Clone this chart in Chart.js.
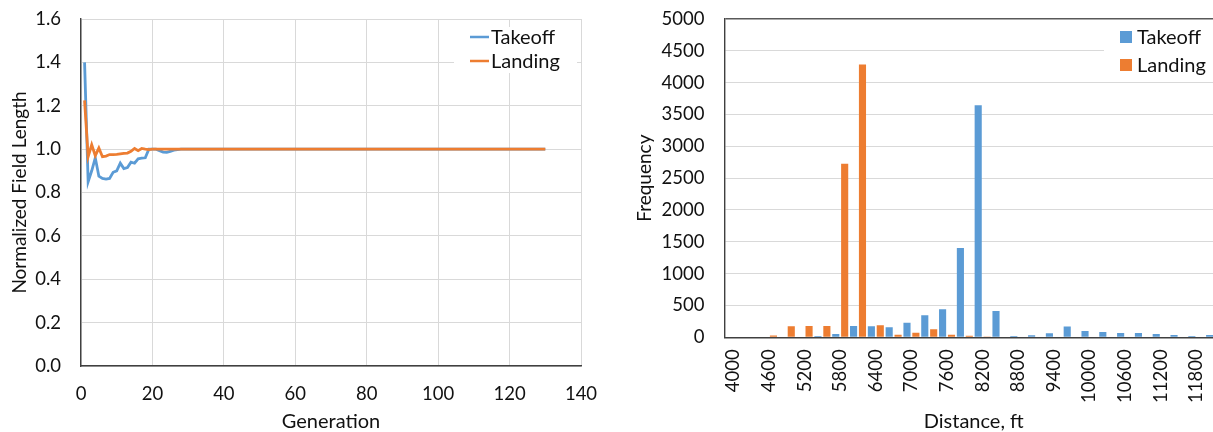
<!DOCTYPE html>
<html>
<head>
<meta charset="utf-8">
<script src="https://cdn.jsdelivr.net/npm/chart.js@4.4.1/dist/chart.umd.min.js"></script>
<style>
  html, body { margin: 0; padding: 0; background: #fff; width: 1213px; height: 432px; overflow: hidden; }
  #left { position: absolute; left: 0; top: 0; }
  #right { position: absolute; left: 600px; top: 0; }
</style>
</head>
<body>
<canvas id="left" width="600" height="432"></canvas>
<canvas id="right" width="640" height="432"></canvas>
<script>
// ---------- Left chart data (Normalized field length vs. generation) ----------
const generation = [1,2,3,4,5,6,7,8,9,10,11,12,13,14,15,16,17,18,19,20,
  21,22,23,24,25,26,27,28,29,30,31,32,33,34,35,36,37,38,39,40,
  41,42,43,44,45,46,47,48,49,50,51,52,53,54,55,56,57,58,59,60,
  61,62,63,64,65,66,67,68,69,70,71,72,73,74,75,76,77,78,79,80,
  81,82,83,84,85,86,87,88,89,90,91,92,93,94,95,96,97,98,99,100,
  101,102,103,104,105,106,107,108,109,110,111,112,113,114,115,116,117,118,119,120,
  121,122,123,124,125,126,127,128,129,130];
const takeoffNorm = [1.40,0.85,0.90,0.96,0.875,0.865,0.862,0.865,0.893,0.900,
  0.935,0.910,0.915,0.940,0.935,0.955,0.958,0.960,1.000,1.000,
  1.000,0.993,0.986,0.985,0.990,0.995,0.998,1,1,1,
  1,1,1,1,1,1,1,1,1,1, 1,1,1,1,1,1,1,1,1,1,
  1,1,1,1,1,1,1,1,1,1, 1,1,1,1,1,1,1,1,1,1,
  1,1,1,1,1,1,1,1,1,1, 1,1,1,1,1,1,1,1,1,1,
  1,1,1,1,1,1,1,1,1,1, 1,1,1,1,1,1,1,1,1,1,
  1,1,1,1,1,1,1,1,1,1, 1,1,1,1,1,1,1,1,1,1];
const landingNorm = [1.225,0.965,1.020,0.970,1.005,0.965,0.968,0.975,0.975,0.976,
  0.978,0.980,0.982,0.990,1.003,0.993,1.003,1.000,0.998,1.000,
  1,1,1,1,1,1,1,1,1,1, 1,1,1,1,1,1,1,1,1,1,
  1,1,1,1,1,1,1,1,1,1, 1,1,1,1,1,1,1,1,1,1,
  1,1,1,1,1,1,1,1,1,1, 1,1,1,1,1,1,1,1,1,1,
  1,1,1,1,1,1,1,1,1,1, 1,1,1,1,1,1,1,1,1,1,
  1,1,1,1,1,1,1,1,1,1, 1,1,1,1,1,1,1,1,1,1,
  1,1,1,1,1,1,1,1,1,1];

// ---------- Right chart data (histogram of distances) ----------
const distanceBins = [4000,4300,4600,4900,5200,5500,5800,6100,6400,6700,7000,7300,7600,7900,
  8200,8500,8800,9100,9400,9700,10000,10300,10600,10900,11200,11500,11800,12100];
const takeoffFreq = [0,0,0,0,0,20,52,178,175,157,230,345,440,1403,
  3644,414,21,31,63,168,99,84,68,68,52,37,21,37];
const landingFreq = [0,0,30,175,178,178,2727,4285,190,40,70,126,40,26,
  12,0,0,0,0,0,0,0,0,0,0,0,0,0];

const seriesNames = ['Takeoff', 'Landing'];
const BLUE = '#5B9BD5', ORANGE = '#ED7D31';
const FONT = 'Lato';
const TXT = '#111';
const GRID = '#D9D9D9';
const AXIS = '#404040';

Chart.defaults.font.family = FONT;
Chart.defaults.color = TXT;

function noPad(s) { s.paddingTop = 0; s.paddingBottom = 0; s.paddingLeft = 0; s.paddingRight = 0; }

function legendPlugin(kind) {
  return {
    id: 'insideLegend_' + kind,
    beforeDatasetsDraw(chart) {
      const ctx = chart.ctx, ca = chart.chartArea;
      ctx.save();
      ctx.font = '20px ' + FONT;
      ctx.textBaseline = 'middle';
      ctx.textAlign = 'left';
      if (kind === 'line') {
        const bx = ca.right - 127, by = ca.top + 8;
        ctx.fillStyle = '#fff';
        ctx.fillRect(bx, by, 123, 46);
        chart.data.datasets.forEach((ds, i) => {
          const y = ca.top + 18 + 24 * i;
          ctx.strokeStyle = ds.borderColor;
          ctx.lineWidth = 2.5;
          ctx.beginPath();
          ctx.moveTo(ca.right - 111, y);
          ctx.lineTo(ca.right - 92, y);
          ctx.stroke();
          ctx.fillStyle = TXT;
          ctx.fillText(ds.label, ca.right - 90, y + 1);
        });
      } else {
        const bx = ca.right - 119, by = ca.top + 3;
        ctx.fillStyle = '#fff';
        ctx.fillRect(bx, by, 130, 56);
        chart.data.datasets.forEach((ds, i) => {
          const y = ca.top + 18 + 28 * i;
          ctx.fillStyle = ds.backgroundColor;
          ctx.fillRect(ca.right - 103, y - 6, 12, 12);
          ctx.fillStyle = TXT;
          ctx.fillText(ds.label, ca.right - 86, y + 1);
        });
      }
      ctx.restore();
    }
  };
}

// ---------- Left: line chart ----------
new Chart(document.getElementById('left'), {
  type: 'line',
  data: {
    datasets: [
      { label: seriesNames[0], data: generation.map((g, i) => ({ x: g, y: takeoffNorm[i] })),
        borderColor: BLUE, backgroundColor: BLUE, borderWidth: 2.8, pointRadius: 0, tension: 0, order: 1 },
      { label: seriesNames[1], data: generation.map((g, i) => ({ x: g, y: landingNorm[i] })),
        borderColor: ORANGE, backgroundColor: ORANGE, borderWidth: 2.8, pointRadius: 0, tension: 0, order: 0 }
    ]
  },
  options: {
    responsive: false, animation: false, devicePixelRatio: 1,
    layout: { padding: { top: 19, right: 19, left: 0, bottom: 0 } },
    plugins: { legend: { display: false }, tooltip: { enabled: false } },
    scales: {
      x: {
        type: 'linear', min: 0, max: 140,
        ticks: { stepSize: 20, padding: 17, font: { size: 18.5 }, color: TXT, maxRotation: 0 },
        grid: { color: GRID, drawTicks: false, lineWidth: 1 },
        border: { color: AXIS, width: 1.4 },
        title: { display: true, text: 'Generation', font: { size: 20, lineHeight: 1 }, color: TXT, padding: { top: 0, bottom: 0 } },
        afterFit: s => { s.height = 66; noPad(s); }
      },
      y: {
        min: 0, max: 1.6,
        ticks: { stepSize: 0.2, padding: 20, font: { size: 18.5 }, color: TXT, callback: v => Number(v).toFixed(1) },
        grid: { color: GRID, drawTicks: false, lineWidth: 1 },
        border: { color: AXIS, width: 1.4 },
        title: { display: true, text: 'Normalized Field Length', font: { size: 19, lineHeight: 1 }, color: TXT, padding: { top: 10, bottom: 0 } },
        afterFit: s => { s.width = 81; noPad(s); }
      }
    }
  },
  plugins: [legendPlugin('line')]
});

// ---------- Right: histogram bar chart ----------
new Chart(document.getElementById('right'), {
  type: 'bar',
  data: {
    labels: distanceBins.map(String),
    datasets: [
      { label: seriesNames[0], data: takeoffFreq, backgroundColor: BLUE, barPercentage: 0.8, categoryPercentage: 1 },
      { label: seriesNames[1], data: landingFreq, backgroundColor: ORANGE, barPercentage: 0.8, categoryPercentage: 1 }
    ]
  },
  options: {
    responsive: false, animation: false, devicePixelRatio: 1,
    layout: { padding: { top: 19, right: 17, left: 0, bottom: 0 } },
    plugins: { legend: { display: false }, tooltip: { enabled: false } },
    scales: {
      x: {
        ticks: {
          autoSkip: false, minRotation: 90, maxRotation: 90, padding: 12,
          font: { size: 18.5 }, color: TXT,
          callback: function (v, i) { return i % 2 === 0 ? this.getLabelForValue(v) : ''; }
        },
        grid: { display: false, drawTicks: false },
        border: { color: AXIS, width: 1.4 },
        title: { display: true, text: 'Distance, ft', font: { size: 20, lineHeight: 1 }, color: TXT, padding: { top: 0, bottom: 0 } },
        afterFit: s => { s.height = 94.7; noPad(s); }
      },
      y: {
        min: 0, max: 5000,
        ticks: { stepSize: 500, padding: 20, font: { size: 18.5 }, color: TXT, callback: v => String(v) },
        grid: { color: c => (c.tick && c.tick.value === 5000 ? '#595959' : GRID), drawTicks: false, lineWidth: c => (c.tick && c.tick.value === 5000 ? 1.4 : 1) },
        border: { color: AXIS, width: 1.4 },
        title: { display: true, text: 'Frequency', font: { size: 19, lineHeight: 1 }, color: TXT, padding: { top: 35, bottom: 0 } },
        afterFit: s => { s.width = 124.5; noPad(s); }
      }
    }
  },
  plugins: [legendPlugin('bar')]
});
</script>
</body>
</html>
